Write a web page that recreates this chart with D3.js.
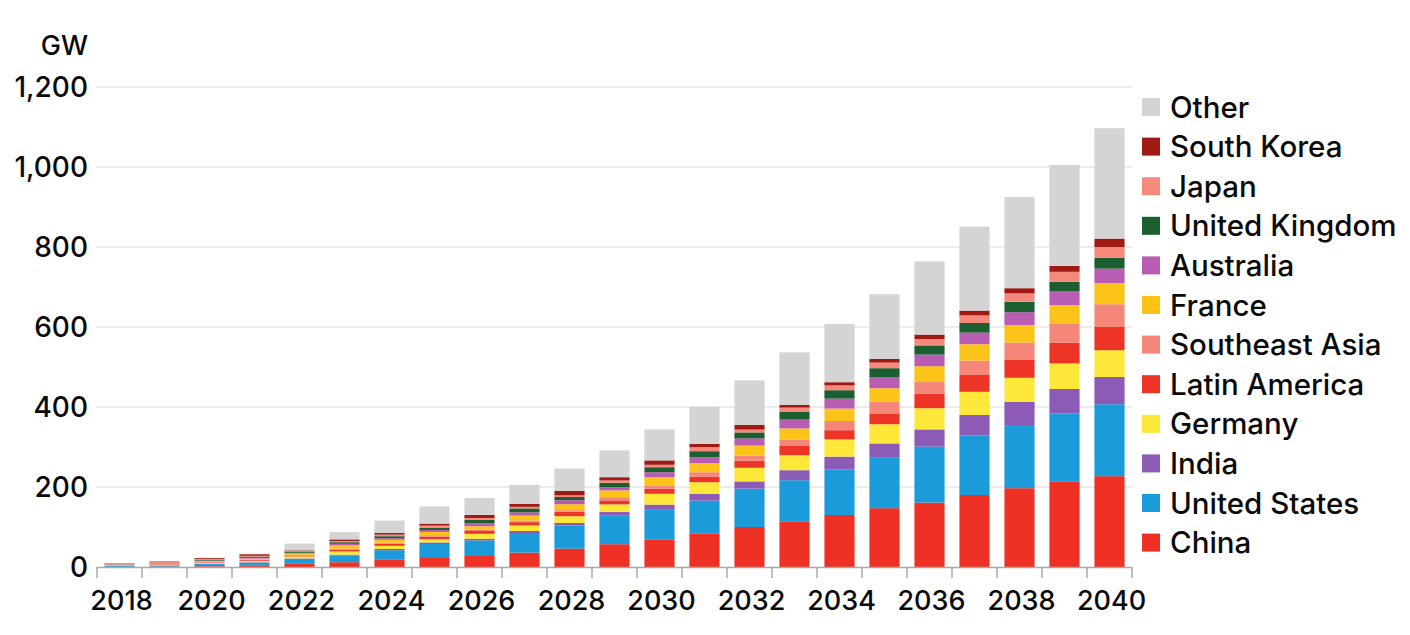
<!DOCTYPE html>
<html>
<head>
<meta charset="utf-8">
<script src="https://cdn.jsdelivr.net/npm/d3@7/dist/d3.min.js"></script>
<style>
  html, body { margin: 0; padding: 0; background: #fff; }
  svg { display: block; }
  text { font-family: Inter, "Open Sans", sans-serif; fill: #0a0a0a; font-weight: 500; }
</style>
</head>
<body>
<svg id="chart" width="1410" height="635"></svg>
<script>
const years = d3.range(2018, 2041);
const yTicks = [0, 200, 400, 600, 800, 1000, 1200];
const xTickLabels = [2018, 2020, 2022, 2024, 2026, 2028, 2030, 2032, 2034, 2036, 2038, 2040];

const seriesNames = ["China", "United States", "India", "Germany", "Latin America", "Southeast Asia",
  "France", "Australia", "United Kingdom", "Japan", "South Korea", "Other"];
const seriesColors = ["#ee3124", "#1b9bd9", "#8b5bb6", "#fde83a", "#ee3427", "#f4877a",
  "#fcc319", "#b95cb3", "#1b5e2f", "#f58a7c", "#9e1a12", "#d4d4d4"];

const china        = [0.5, 1, 2, 3, 8, 12, 18, 22.5, 27.5, 36, 46, 57, 68, 83, 100, 113, 130, 147, 161, 180, 197, 213, 227];
const unitedStates = [2, 3, 6, 8, 12.5, 17, 24, 35, 39, 49, 58, 72.5, 75, 83, 96, 104, 114, 126, 140, 149, 158, 171, 180];
const india        = [0.2, 0.3, 0.5, 1, 1, 2, 3, 4, 4, 5, 6, 8, 13, 17, 18, 25, 32, 36, 43, 51, 58, 61, 68];
const germany      = [0.8, 1, 1.5, 3, 5, 8, 8, 8, 12.5, 14, 17, 19, 27, 29, 34, 37.5, 43, 48, 53, 58, 60, 64, 67];
const latinAmerica = [0.8, 1, 1.5, 2, 2, 4, 5, 6, 7, 8, 11, 10, 12.5, 14, 18, 23, 23, 27, 36, 42, 46, 52, 58];
const southeastAsia= [0.7, 1, 1.5, 2, 2, 3, 3, 4, 3, 4, 4, 8, 8, 11, 12.5, 16, 23, 29, 31, 36, 42, 48, 57];
const france       = [0.7, 1, 1.5, 2, 3, 8, 7, 8, 9, 12.5, 15, 17, 21, 22.5, 25, 28, 31, 34, 38, 41, 44, 46, 53];
const australia    = [0.6, 1, 1.5, 2, 2, 4, 4, 5, 7.5, 8, 10, 8, 12.5, 15, 18, 22, 25, 27, 29, 29, 32, 35, 36];
const unitedKingdom= [0.6, 1, 1.5, 3, 2, 4, 5, 6, 8, 10, 8, 11, 12.5, 15, 15, 19, 21, 23, 23, 24, 26, 23, 27];
const japan        = [2, 3, 3, 2, 2, 3, 4, 5, 5, 4, 4, 6, 6, 10, 7, 11, 12, 14, 16, 19, 21, 25, 27];
const southKorea   = [0.8, 1.2, 2, 4, 2, 4, 4, 5, 7.5, 7, 11, 8, 11, 8, 12, 7, 8, 9, 11, 12, 13, 15, 21];
const other        = [0.3, 0.5, 1, 1.5, 17, 18, 31, 43, 42.5, 48, 56, 67, 77.5, 93, 111, 131, 146, 162, 183, 210, 228, 252, 276];

const seriesValues = [china, unitedStates, india, germany, latinAmerica, southeastAsia,
  france, australia, unitedKingdom, japan, southKorea, other];

const rows = years.map((yr, i) => {
  const r = { year: yr };
  seriesNames.forEach((n, k) => { r[n] = seriesValues[k][i]; });
  return r;
});

const svg = d3.select("#chart");
const plotLeft = 97, plotRight = 1132, plotTop = 87, plotBottom = 567;

const x = d3.scaleBand().domain(years).range([plotLeft, plotRight]).paddingInner(0.33).paddingOuter(0.165);
const y = d3.scaleLinear().domain([0, 1200]).range([plotBottom, plotTop]);

// gridlines
svg.append("g").selectAll("line").data(yTicks.filter(d => d > 0)).join("line")
  .attr("x1", plotLeft).attr("x2", plotRight)
  .attr("y1", d => y(d)).attr("y2", d => y(d))
  .attr("stroke", "#e6e6e6").attr("stroke-width", 1.5);

// stacked bars
const stack = d3.stack().keys(seriesNames)(rows);
const color = d3.scaleOrdinal().domain(seriesNames).range(seriesColors);
svg.append("g").selectAll("g").data(stack).join("g")
  .attr("fill", d => color(d.key))
  .selectAll("rect").data(d => d).join("rect")
  .attr("x", d => x(d.data.year))
  .attr("width", x.bandwidth())
  .attr("y", d => y(d[1]))
  .attr("height", d => Math.max(0, y(d[0]) - y(d[1])));

// x axis
const step = x.step();
const gap = step - x.bandwidth();
const boundaries = years.map(yr => x(yr) - gap / 2).concat([x(years[years.length - 1]) + x.bandwidth() + gap / 2]);
const ax = svg.append("g");
ax.append("line").attr("x1", plotLeft).attr("x2", plotRight).attr("y1", plotBottom + 0.5).attr("y2", plotBottom + 0.5)
  .attr("stroke", "#a8a8a8").attr("stroke-width", 1.5);
ax.selectAll("line.tick").data(boundaries).join("line").attr("class", "tick")
  .attr("x1", d => d).attr("x2", d => d).attr("y1", plotBottom).attr("y2", plotBottom + 11)
  .attr("stroke", "#a8a8a8").attr("stroke-width", 1.5);
ax.selectAll("text").data(xTickLabels).join("text")
  .attr("x", d => x(d) + x.bandwidth() / 2 + 2)
  .attr("y", 610)
  .attr("text-anchor", "middle")
  .attr("font-size", 27)
  .text(d => d);

// y axis labels
const ay = svg.append("g");
ay.selectAll("text").data(yTicks).join("text")
  .attr("x", 88).attr("y", d => y(d) + 10)
  .attr("text-anchor", "end").attr("font-size", 28)
  .text(d => d3.format(",")(d));
ay.append("text").attr("x", 88).attr("y", 55).attr("text-anchor", "end").attr("font-size", 27).text("GW");

// legend
const legendOrder = seriesNames.slice().reverse();
const lg = svg.append("g");
legendOrder.forEach((n, i) => {
  const cy = 107 + i * 39.6;
  lg.append("rect").attr("x", 1142).attr("y", cy - 9).attr("width", 18).attr("height", 18).attr("fill", color(n));
  lg.append("text").attr("x", 1170).attr("y", cy + 10.5).attr("font-size", 29.5).text(n);
});
</script>
</body>
</html>
